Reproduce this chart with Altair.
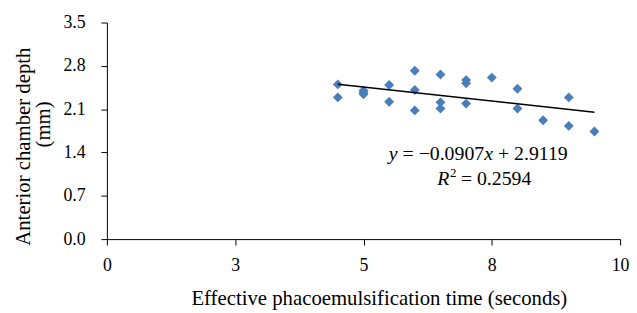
import altair as alt
import pandas as pd

# ---- data ----
time_s = [4.5, 4.5, 5, 5, 5, 5.5, 5.5, 6, 6, 6, 6.5, 6.5, 6.5, 7, 7, 7, 7.5, 8, 8, 8.5, 9, 9, 9.5]
depth_mm = [2.50, 2.29, 2.40, 2.37, 2.34, 2.49, 2.22, 2.72, 2.41, 2.08, 2.66, 2.21, 2.11,
            2.57, 2.52, 2.19, 2.61, 2.43, 2.11, 1.92, 2.29, 1.83, 1.74]
slope = -0.0907
intercept = 2.9119
r_squared = 0.2594
fit_x = [4.5, 9.5]
x_ticks = [0, 2.5, 5, 7.5, 10]
y_ticks = [0.0, 0.7, 1.4, 2.1, 2.8, 3.5]

FONT = "Liberation Serif"

pts = pd.DataFrame({"t": time_s, "d": depth_mm})
fit = pd.DataFrame({"t": fit_x, "d": [slope * v + intercept for v in fit_x]})

xs = alt.Scale(domain=[0, 10], nice=False, zero=False)
ys = alt.Scale(domain=[0, 3.5], nice=False)

x_axis = alt.Axis(values=x_ticks, format=".0f", grid=False, labelFlush=False,
                  title="Effective phacoemulsification time (seconds)",
                  labelPadding=12, titleX=275, titleY=66.5, titleAlign="center",
                  titleBaseline="alphabetic")
y_axis = alt.Axis(values=y_ticks, format=".1f", grid=False, labelFlush=False,
                  title="Anterior chamber depth",
                  labelPadding=16, titleAngle=270, titleX=-78, titleY=125,
                  titleAlign="center", titleBaseline="alphabetic")

points = alt.Chart(pts).mark_point(shape="diamond", filled=True, size=100,
                                   color="#4A7EBB", opacity=1).encode(
    x=alt.X("t:Q", scale=xs, axis=x_axis),
    y=alt.Y("d:Q", scale=ys, axis=y_axis),
)

line = alt.Chart(fit).mark_line(color="black", strokeWidth=1.5).encode(
    x=alt.X("t:Q", scale=xs),
    y=alt.Y("d:Q", scale=ys),
)

one = pd.DataFrame({"k": [0]})


def txt(s, x, y, size=20, italic=False, align="left", angle=0):
    kw = dict(text=s, font=FONT, fontSize=size, color="black", align=align,
              baseline="alphabetic")
    if italic:
        kw["fontStyle"] = "italic"
    if angle:
        kw["angle"] = angle
    return alt.Chart(one).mark_text(**kw).encode(x=alt.value(x), y=alt.value(y))


eq_y = 139
r_y = 164
labels = [
    txt("y", 285, eq_y, italic=True),
    txt(f"= \u2212{abs(slope):.4f}", 299, eq_y),
    txt("x", 381.5, eq_y, italic=True),
    txt(f"+ {intercept:.4f}", 395.5, eq_y),
    txt("R", 334, r_y, italic=True),
    txt("2", 347, r_y - 8, size=13),
    txt(f"= {r_squared:.4f}", 358, r_y),
    txt("(mm)", -58, 103, size=21, align="center", angle=270),
]

chart = alt.layer(points, line, *labels).properties(
    width=519, height=219,
    autosize=alt.AutoSizeParams(type="none"),
    padding={"left": 100, "top": 13, "right": 9, "bottom": 72},
).configure_view(stroke=None).configure_axis(
    labelFont=FONT, labelFontSize=18, labelColor="black",
    titleFont=FONT, titleFontSize=21, titleFontWeight="normal", titleColor="black",
    domainColor="black", domainWidth=1, tickColor="black", tickSize=6,
)

chart.save("out.html", embed_options={"renderer": "svg", "actions": False})
